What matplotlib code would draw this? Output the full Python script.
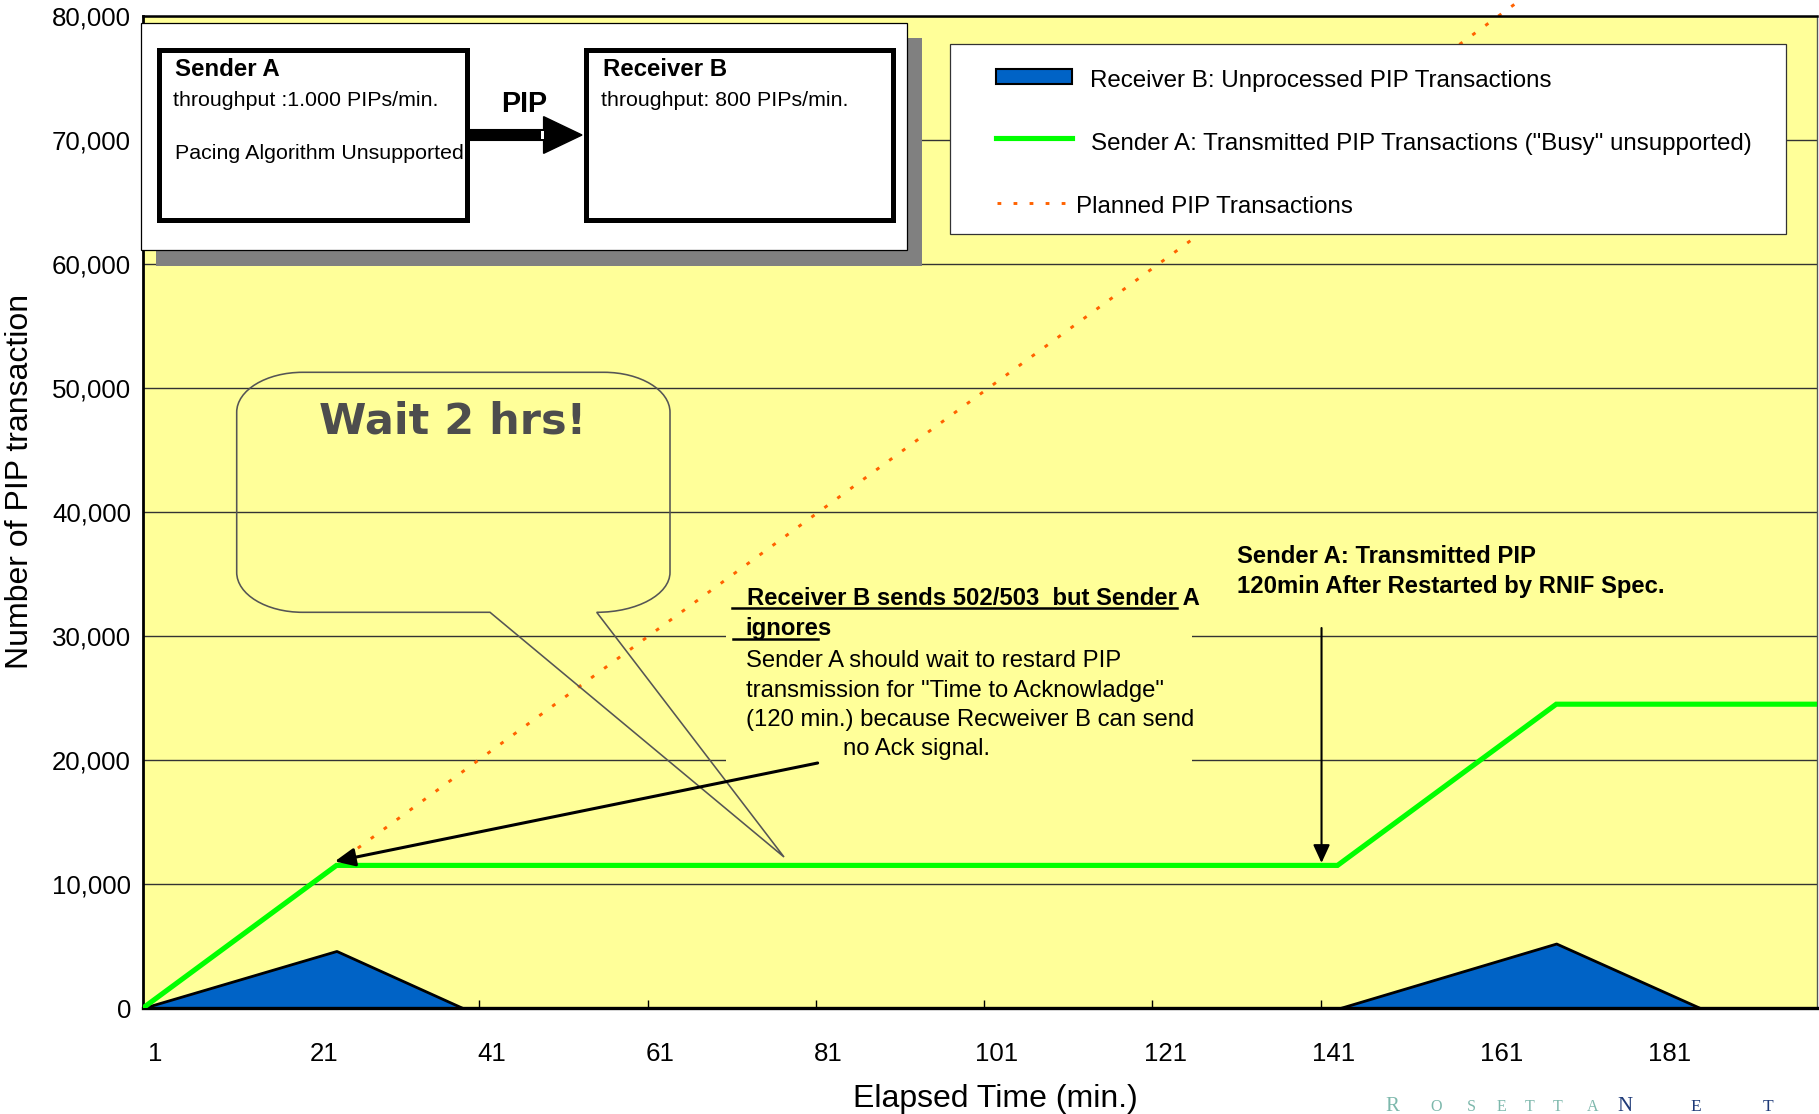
import matplotlib
matplotlib.use('Agg')
import matplotlib.pyplot as plt
from matplotlib.patches import Rectangle, PathPatch, FancyArrow
from matplotlib.path import Path
from matplotlib.lines import Line2D
from matplotlib.transforms import Affine2D

plt.rcParams['font.family'] = ['Liberation Sans', 'DejaVu Sans']

# ---------------- data ----------------
# x = elapsed-time position on the category axis, y = number of PIP transactions
sender_x = [0, 23, 142, 168, 199]
sender_y = [0, 11500, 11500, 24500, 24500]

receiver_x = [0, 23, 38, 142.3, 168, 185.1, 199]
receiver_y = [0, 4600, 0, 0, 5200, 0, 0]

planned_x = [24, 168]
planned_y = [12130, 83400]

xtick_minutes = [1, 21, 41, 61, 81, 101, 121, 141, 161, 181]
xtick_marks = [20, 40, 60, 80, 100, 120, 140, 160, 180]
ytick_values = [0, 10000, 20000, 30000, 40000, 50000, 60000, 70000, 80000]

legend_labels = ["Receiver B: Unprocessed PIP Transactions",
                 "Sender A: Transmitted PIP Transactions (\"Busy\" unsupported)",
                 "Planned PIP Transactions"]

# ---------------- figure ----------------
W, H = 1819, 1114
fig = plt.figure(figsize=(W / 100, H / 100), dpi=100)
fig.patch.set_facecolor('white')
ax = fig.add_axes([143 / W, 1 - 1008 / H, 1674 / W, 992 / H])
ax.set_facecolor('#FFFF99')

# pixel transform (x right, y down, in 1819x1114 pixel space)
pix = Affine2D().scale(1 / W, -1 / H).translate(0, 1) + fig.transFigure

BLUE = '#0063C6'
GREEN = '#00FF00'
ORANGE = '#FF6200'
DOTS = (0, (1.3, 4.2))

ax.fill_between(receiver_x, receiver_y, 0, facecolor=BLUE, edgecolor='black',
                linewidth=2.0, zorder=2)
ax.plot(planned_x, planned_y, color=ORANGE, lw=2.1, linestyle=DOTS,
        zorder=2.5, clip_on=False)
ax.plot(sender_x, sender_y, color=GREEN, lw=3.7, zorder=3, solid_joinstyle='miter')

ax.set_xlim(0, 199)
ax.set_ylim(0, 80000)
ax.set_yticks(ytick_values)
ax.set_yticklabels([f'{v:,}' for v in ytick_values])
ax.tick_params(axis='y', length=0, pad=8.6, labelsize=18.6)
ax.set_xticks([m + 0.5 for m in xtick_minutes])
ax.set_xticklabels([str(m) for m in xtick_minutes])
ax.tick_params(axis='x', which='major', length=0, pad=24.5, labelsize=18.6)
ax.set_xticks(xtick_marks, minor=True)
ax.tick_params(axis='x', which='minor', direction='in', length=5.8, width=1.0,
               color='black')
ax.grid(axis='y', color='#333333', lw=1.0)
ax.set_axisbelow(True)

for side, lw, col in [('top', 1.8, 'black'), ('left', 2.0, 'black'),
                      ('bottom', 2.4, 'black'), ('right', 1.0, '#555555')]:
    ax.spines[side].set_linewidth(lw)
    ax.spines[side].set_color(col)

ax.set_xlabel('Elapsed Time (min.)', fontsize=23)
ax.xaxis.set_label_coords((995 - 143) / 1674, (1008 - 1099.5) / 992)
ax.xaxis.label.set_va('center')
ax.set_ylabel('Number of PIP transaction', fontsize=23)
ax.yaxis.set_label_coords((19.7 - 143) / 1674, (1008 - 481) / 992)
ax.yaxis.label.set_va('center')

# ---------------- annotations inside plot ----------------
# text box background (hides gridlines)
ax.add_patch(Rectangle((726, 588), 466, 180, transform=pix, facecolor='#FFFF99',
                       edgecolor='none', zorder=1, clip_on=False))

# speech bubble
L, R, T, B = 236.7, 670.0, 372.3, 612.3
rx, ry = 66.0, 40.0
tail_l, tail_r = 490.0, 596.7
rx2 = R - tail_r
tip = (784.0, 857.0)
k = 0.5523
verts = [
    (L + rx, T), (R - rx, T),
    (R - rx + k * rx, T), (R, T + ry - k * ry), (R, T + ry),
    (R, B - ry),
    (R, B - ry + k * ry), (R - rx2 + k * rx2, B), (R - rx2, B),
    tip, (tail_l, B), (L + rx, B),
    (L + rx - k * rx, B), (L, B - ry + k * ry), (L, B - ry),
    (L, T + ry),
    (L, T + ry - k * ry), (L + rx - k * rx, T), (L + rx, T),
    (L + rx, T),
]
codes = ([Path.MOVETO, Path.LINETO] + [Path.CURVE4] * 3 + [Path.LINETO]
         + [Path.CURVE4] * 3 + [Path.LINETO] * 3 + [Path.CURVE4] * 3
         + [Path.LINETO] + [Path.CURVE4] * 3 + [Path.CLOSEPOLY])
ax.add_patch(PathPatch(Path(verts, codes), transform=pix, facecolor='none',
                       edgecolor='#555555', lw=1.15, zorder=4, clip_on=False))
fig.text(452.5, 434, 'Wait 2 hrs!', transform=pix, ha='center', va='baseline',
         fontsize=31, fontweight='bold', color='#4D4D4D', family='DejaVu Sans')

# arrows
ax.annotate('', xy=(22.8, 11823), xytext=(80.2, 19758),
            arrowprops=dict(arrowstyle='-|>,head_length=0.55,head_width=0.25',
                            mutation_scale=22, lw=2.2, color='black',
                            shrinkA=0, shrinkB=0), zorder=4)
ax.annotate('', xy=(140.1, 11700), xytext=(140.1, 30645),
            arrowprops=dict(arrowstyle='-|>,head_length=0.5,head_width=0.23',
                            mutation_scale=22, lw=1.5, color='black',
                            shrinkA=0, shrinkB=0), zorder=4)

# middle text
fig.text(746.7, 605, 'Receiver B sends 502/503  but Sender A', transform=pix,
         fontsize=17.2, fontweight='bold', va='baseline')
fig.text(745.7, 635, 'ignores', transform=pix, fontsize=17.2, fontweight='bold',
         va='baseline')
fig.add_artist(Line2D([732.3, 1176.7], [607.7, 607.7], transform=pix,
                      color='black', lw=1.8))
fig.add_artist(Line2D([733.3, 818.3], [639, 639], transform=pix,
                      color='black', lw=1.8))
for txt, x, y in [('Sender A should wait to restard PIP', 745.7, 667.3),
                  ('transmission for "Time to Acknowladge"', 745.7, 696.7),
                  ('(120 min.) because Recweiver B can send', 745.7, 725.7),
                  ('no Ack signal.', 843.3, 755)]:
    fig.text(x, y, txt, transform=pix, fontsize=17.2, va='baseline')

fig.text(1236.8, 563.3, 'Sender A: Transmitted PIP', transform=pix,
         fontsize=17.2, fontweight='bold', va='baseline')
fig.text(1236.8, 592.7, '120min After Restarted by RNIF Spec.', transform=pix,
         fontsize=17.2, fontweight='bold', va='baseline')

# ---------------- top-left diagram ----------------
fig.add_artist(Rectangle((156, 37.7), 766.4, 228, transform=pix,
                         facecolor='#808080', edgecolor='none', zorder=5))
fig.add_artist(Rectangle((140.6, 22.7), 766.1, 227.3, transform=pix,
                         facecolor='white', edgecolor='black', lw=0.9, zorder=5.1))
fig.add_artist(Rectangle((158.8, 50), 307.9, 170, transform=pix,
                         facecolor='white', edgecolor='black', lw=3.6, zorder=5.2))
fig.add_artist(Rectangle((585.5, 50), 307.8, 170, transform=pix,
                         facecolor='white', edgecolor='black', lw=3.6, zorder=5.2))
fig.add_artist(FancyArrow(468, 135, 114, 0, width=10.7, head_width=36.7,
                          head_length=38.4, length_includes_head=True,
                          transform=pix, facecolor='black', edgecolor='black',
                          zorder=5.3))
fig.add_artist(Rectangle((541, 131), 2.5, 8, transform=pix, facecolor='white',
                         edgecolor='none', zorder=5.4))
dtexts = [('Sender A', 174.5, 76, 17.3, 'bold', 'left'),
          ('throughput :1.000 PIPs/min.', 172.7, 106, 15.4, 'normal', 'left'),
          ('Pacing Algorithm Unsupported', 174.5, 159.3, 15.4, 'normal', 'left'),
          ('Receiver B', 603, 76, 17.3, 'bold', 'left'),
          ('throughput: 800 PIPs/min.', 601.2, 106, 15.4, 'normal', 'left'),
          ('PIP', 524.2, 111.7, 20.7, 'bold', 'center')]
for txt, x, y, fs, fw, ha in dtexts:
    fig.text(x, y, txt, transform=pix, fontsize=fs, fontweight=fw, ha=ha,
             va='baseline', zorder=6)

# ---------------- legend ----------------
fig.add_artist(Rectangle((950, 44.3), 836.4, 189.7, transform=pix,
                         facecolor='white', edgecolor='#333333', lw=0.9, zorder=5))
fig.add_artist(Rectangle((996, 69), 75.7, 15, transform=pix, facecolor=BLUE,
                         edgecolor='black', lw=1.5, zorder=6))
fig.add_artist(Line2D([996, 1071.7], [138.3, 138.3], transform=pix, color=GREEN,
                      lw=3.7, zorder=6))
fig.add_artist(Line2D([997, 1066], [202.7, 202.7], transform=pix, color=ORANGE,
                      lw=2.1, linestyle=DOTS, zorder=6))
for txt, x, y in zip(legend_labels, [1090.2, 1091.3, 1076.2], [86.7, 150, 212.7]):
    fig.text(x, y, txt, transform=pix, fontsize=17.4, va='baseline', zorder=6)

# ---------------- logo (bottom-right corner) ----------------
TEAL = '#7DB8AC'
NAVY = '#1E3A78'
logo = [('R', 1385, 15, TEAL), ('O', 1430, 11.5, TEAL),
        ('S', 1467, 11.5, TEAL), ('E', 1497, 11.5, TEAL),
        ('T', 1525, 11.5, TEAL), ('T', 1553, 11.5, TEAL),
        ('A', 1587, 11.5, TEAL), ('N', 1617, 15, NAVY),
        ('E', 1690, 12.5, NAVY), ('T', 1763, 12.5, NAVY)]
for ch, x, fs, col in logo:
    fig.text(x, 1111, ch, transform=pix, fontsize=fs, color=col, va='baseline',
             family='Liberation Serif')

fig.savefig('out.png', dpi=100, facecolor='white')
